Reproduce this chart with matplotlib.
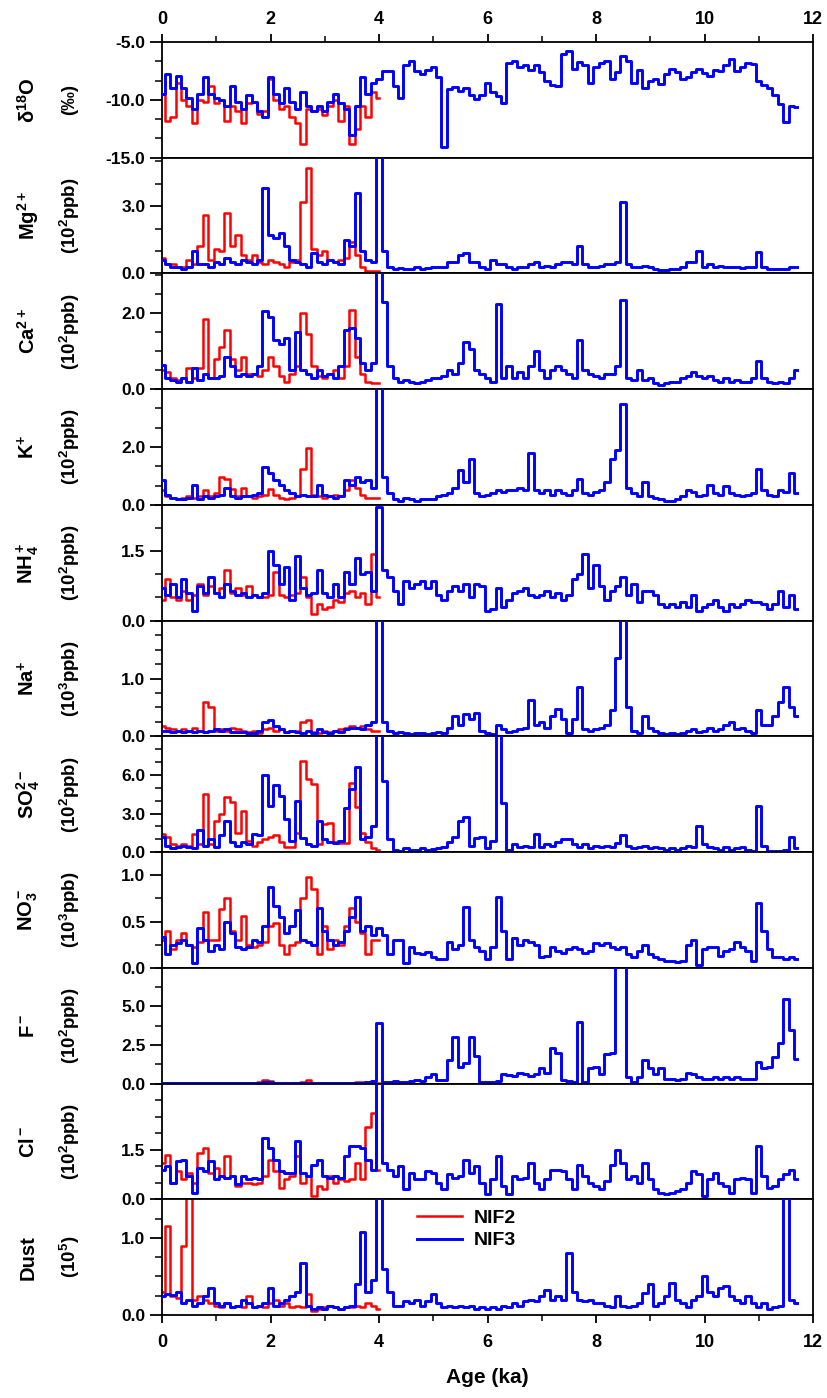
import numpy as np
import matplotlib
matplotlib.use('Agg')
import matplotlib.pyplot as plt
from matplotlib.ticker import FixedLocator, AutoMinorLocator, FormatStrFormatter, MultipleLocator

plt.rcParams['font.family'] = ['Liberation Sans', 'DejaVu Sans']
plt.rcParams['font.weight'] = 'bold'
plt.rcParams['axes.unicode_minus'] = False
plt.rcParams['mathtext.fontset'] = 'custom'
plt.rcParams['mathtext.rm'] = 'Liberation Sans:bold'
plt.rcParams['mathtext.it'] = 'Liberation Sans:bold'
plt.rcParams['mathtext.bf'] = 'Liberation Sans:bold'
plt.rcParams['mathtext.default'] = 'rm'

# ---------------- data (sampled every 0.1 ka) ----------------
age_nif3 = np.round(np.arange(0, 11.75, 0.1), 1)   # 0.0 .. 11.7 ka
age_nif2 = np.round(np.arange(0, 4.05, 0.1), 1)    # 0.0 .. 4.0 ka

d18o_nif3 = [-9.5, -7.8, -9.0, -7.9, -9.0, -9.8, -10.8, -9.5, -8.0, -9.5,
             -9.8, -10.0, -10.5, -8.8, -10.2, -10.8, -9.6, -10.2, -11.0, -11.5,
             -8.0, -9.5, -10.3, -9.0, -10.2, -10.8, -9.3, -10.5, -11.0, -10.5,
             -11.0, -10.2, -9.5, -10.3, -10.8, -13.0, -10.5, -8.0, -9.5, -8.5,
             -8.2, -7.5, -7.5, -8.8, -9.8, -7.0, -6.6, -7.5, -7.8, -7.4,
             -7.2, -8.0, -14.1, -9.1, -8.9, -9.2, -9.0, -9.6, -9.9, -9.6,
             -8.5, -9.3, -9.7, -10.3, -6.8, -6.6, -7.2, -7.0, -7.4, -7.0,
             -7.6, -8.4, -8.7, -8.8, -6.0, -5.8, -7.3, -6.7, -7.0, -8.5,
             -7.2, -6.8, -6.6, -8.2, -7.6, -6.2, -6.6, -8.5, -7.4, -9.0,
             -8.4, -8.2, -8.6, -7.8, -7.3, -7.6, -8.2, -8.0, -7.6, -7.3,
             -7.7, -7.9, -7.4, -7.5, -7.0, -6.5, -7.5, -7.2, -6.8, -6.9,
             -8.4, -8.7, -9.0, -9.6, -10.4, -11.9, -10.5, -10.6]
d18o_nif2 = [-9.5, -11.8, -11.5, -8.5, -10.0, -10.5, -12.0, -10.0, -10.2, -8.8,
             -10.3, -10.0, -11.8, -10.5, -11.0, -12.0, -10.3, -10.2, -11.2, -11.0,
             -8.2, -10.0, -10.8, -10.5, -11.5, -12.0, -13.8, -10.8, -11.0, -10.8,
             -11.3, -10.5, -10.0, -11.8, -10.5, -13.8, -12.5, -10.5, -11.5, -9.3,
             -9.8]

mg_nif3 = [0.6, 0.4, 0.3, 0.3, 0.2, 0.3, 1.0, 0.4, 0.4, 0.3,
           0.5, 0.4, 0.7, 0.5, 0.4, 0.6, 0.5, 0.4, 0.6, 3.8,
           1.7, 1.6, 1.8, 1.2, 0.6, 0.5, 0.4, 0.3, 0.9, 0.5,
           0.4, 0.6, 0.5, 0.4, 1.5, 1.2, 3.6, 1.0, 0.6, 0.5,
           5.3, 1.0, 0.3, 0.2, 0.25, 0.2, 0.2, 0.3, 0.2, 0.25,
           0.3, 0.3, 0.3, 0.5, 0.5, 0.8, 0.9, 0.5, 0.5, 0.3,
           0.2, 0.6, 0.4, 0.4, 0.3, 0.2, 0.3, 0.3, 0.4, 0.5,
           0.3, 0.35, 0.3, 0.4, 0.5, 0.5, 0.4, 1.2, 0.4, 0.3,
           0.3, 0.35, 0.4, 0.4, 0.5, 3.2, 0.4, 0.3, 0.3, 0.35,
           0.3, 0.2, 0.15, 0.15, 0.2, 0.2, 0.3, 0.5, 0.5, 1.0,
           0.3, 0.4, 0.3, 0.35, 0.3, 0.3, 0.3, 0.25, 0.3, 0.3,
           0.95, 0.3, 0.2, 0.2, 0.2, 0.2, 0.3, 0.3]
mg_nif2 = [0.7, 0.4, 0.4, 0.3, 0.3, 0.6, 0.4, 1.2, 2.6, 0.6,
           1.1, 1.0, 2.7, 1.2, 1.7, 0.8, 0.6, 0.8, 0.5, 0.4,
           0.6, 0.5, 0.4, 0.3, 0.5, 0.6, 3.2, 4.7, 1.1, 0.8,
           1.0, 0.6, 0.5, 0.6, 0.7, 1.4, 0.8, 0.3, 0.1, 0.1,
           0.1]

ca_nif3 = [0.65, 0.3, 0.25, 0.2, 0.3, 0.2, 0.55, 0.25, 0.4, 0.3,
           0.3, 0.35, 0.85, 0.6, 0.35, 0.4, 0.35, 0.4, 0.6, 2.05,
           1.9, 1.3, 1.2, 1.35, 0.5, 1.5, 0.5, 0.4, 0.3, 0.5,
           0.35, 0.4, 0.3, 0.6, 1.55, 1.6, 1.35, 0.7, 0.5, 0.7,
           3.2, 2.3, 0.6, 0.3, 0.2, 0.25, 0.2, 0.15, 0.2, 0.25,
           0.3, 0.3, 0.35, 0.5, 0.4, 0.7, 1.25, 1.05, 0.5, 0.4,
           0.3, 0.2, 2.25, 0.3, 0.6, 0.3, 0.45, 0.3, 0.6, 1.0,
           0.5, 0.3, 0.5, 0.6, 0.5, 0.4, 0.3, 1.3, 0.5, 0.4,
           0.35, 0.3, 0.4, 0.4, 0.6, 2.35, 0.3, 0.25, 0.5, 0.25,
           0.3, 0.15, 0.1, 0.15, 0.2, 0.2, 0.3, 0.35, 0.45, 0.35,
           0.3, 0.35, 0.25, 0.2, 0.3, 0.2, 0.25, 0.2, 0.2, 0.3,
           0.75, 0.3, 0.2, 0.15, 0.2, 0.15, 0.3, 0.5]
ca_nif2 = [0.5, 0.45, 0.3, 0.25, 0.3, 0.55, 0.3, 0.55, 1.85, 0.3,
           0.8, 1.1, 1.55, 0.8, 0.5, 0.85, 0.4, 0.4, 0.35, 0.5,
           0.85, 0.6, 0.35, 0.2, 0.4, 0.6, 2.0, 1.45, 0.6, 0.35,
           0.3, 0.4, 0.5, 0.3, 0.6, 2.1, 0.85, 0.4, 0.2, 0.15,
           0.15]

k_nif3 = [0.85, 0.35, 0.25, 0.2, 0.2, 0.25, 0.7, 0.2, 0.3, 0.25,
          0.3, 0.35, 0.6, 0.3, 0.25, 0.3, 0.3, 0.35, 0.4, 1.3,
          1.1, 0.85, 0.7, 0.5, 0.4, 0.3, 0.35, 0.3, 0.3, 0.7,
          0.35, 0.3, 0.25, 0.3, 0.85, 0.7, 0.95, 0.8, 0.85, 0.6,
          4.1, 0.95, 0.4, 0.2, 0.15, 0.25, 0.2, 0.15, 0.2, 0.2,
          0.2, 0.3, 0.35, 0.4, 0.6, 1.2, 0.8, 1.6, 0.4, 0.3,
          0.35, 0.4, 0.5, 0.45, 0.5, 0.5, 0.6, 0.5, 1.8, 0.5,
          0.4, 0.5, 0.35, 0.5, 0.4, 0.35, 0.5, 0.9, 0.4, 0.35,
          0.45, 0.5, 0.8, 1.6, 1.9, 3.5, 0.6, 0.4, 0.3, 0.8,
          0.3, 0.25, 0.2, 0.15, 0.15, 0.2, 0.3, 0.5, 0.45, 0.3,
          0.35, 0.7, 0.4, 0.35, 0.65, 0.4, 0.35, 0.3, 0.35, 0.4,
          1.25, 0.5, 0.35, 0.3, 0.5, 0.45, 1.1, 0.4]
k_nif2 = [0.5, 0.3, 0.25, 0.2, 0.25, 0.3, 0.25, 0.3, 0.5, 0.3,
          0.4, 0.95, 0.9, 0.55, 0.3, 0.6, 0.3, 0.25, 0.3, 0.35,
          0.55, 0.35, 0.25, 0.2, 0.25, 0.3, 1.25, 1.95, 0.35, 0.3,
          0.25, 0.3, 0.35, 0.3, 0.5, 0.85, 0.6, 0.35, 0.25, 0.25,
          0.25]

nh4_nif3 = [0.7, 0.55, 0.8, 0.5, 0.9, 0.6, 0.2, 0.75, 0.6, 0.95,
            0.6, 0.5, 0.8, 0.65, 0.55, 0.6, 0.5, 0.55, 0.5, 0.6,
            1.5, 1.2, 0.8, 1.15, 0.45, 1.4, 0.7, 0.55, 0.6, 1.1,
            0.6, 0.5, 0.8, 0.5, 1.05, 0.8, 1.35, 1.0, 1.05, 0.65,
            2.45, 1.1, 0.95, 0.65, 0.35, 0.85, 0.7, 0.8, 0.85, 0.7,
            0.85, 0.55, 0.45, 0.65, 0.75, 0.65, 0.8, 0.5, 0.8, 0.75,
            0.2, 0.25, 0.7, 0.3, 0.45, 0.6, 0.65, 0.7, 0.55, 0.5,
            0.55, 0.65, 0.5, 0.6, 0.45, 0.55, 0.9, 1.0, 1.45, 0.7,
            1.2, 0.75, 0.45, 0.65, 0.75, 0.95, 0.55, 0.8, 0.4, 0.65,
            0.65, 0.55, 0.35, 0.3, 0.35, 0.3, 0.4, 0.3, 0.55, 0.2,
            0.3, 0.35, 0.45, 0.3, 0.2, 0.35, 0.3, 0.35, 0.45, 0.4,
            0.4, 0.35, 0.25, 0.35, 0.65, 0.3, 0.55, 0.25]
nh4_nif2 = [0.45, 0.9, 0.5, 0.45, 0.65, 0.45, 0.55, 0.8, 0.55, 0.75,
            0.6, 0.7, 1.1, 0.6, 0.7, 0.55, 0.75, 0.55, 0.5, 0.5,
            0.55, 1.05, 0.55, 0.5, 0.55, 0.6, 0.95, 0.5, 0.15, 0.35,
            0.25, 0.3, 0.45, 0.4, 0.6, 0.65, 0.5, 0.6, 0.35, 1.45,
            0.5]

na_nif3 = [0.1, 0.1, 0.08, 0.1, 0.07, 0.1, 0.07, 0.1, 0.08, 0.1,
           0.12, 0.1, 0.12, 0.08, 0.07, 0.08, 0.05, 0.06, 0.1, 0.25,
           0.28, 0.18, 0.12, 0.08, 0.1, 0.07, 0.06, 0.1, 0.05, 0.12,
           0.08, 0.06, 0.1, 0.08, 0.12, 0.15, 0.15, 0.12, 0.2, 0.25,
           2.1, 0.25, 0.1, 0.05, 0.07, 0.05, 0.04, 0.06, 0.05, 0.04,
           0.05, 0.08, 0.05, 0.15, 0.35, 0.2, 0.38, 0.3, 0.4, 0.1,
           0.05, 0.04, 0.2, 0.12, 0.08, 0.1, 0.12, 0.15, 0.62, 0.2,
           0.25, 0.15, 0.35, 0.48, 0.3, 0.06, 0.3, 0.85, 0.12, 0.1,
           0.12, 0.15, 0.2, 0.45, 1.35, 2.1, 0.5, 0.1, 0.06, 0.35,
           0.15, 0.1, 0.06, 0.04, 0.05, 0.04, 0.05, 0.1, 0.12, 0.08,
           0.1, 0.15, 0.1, 0.12, 0.2, 0.25, 0.12, 0.15, 0.1, 0.05,
           0.45, 0.2, 0.2, 0.35, 0.6, 0.85, 0.5, 0.35]
na_nif2 = [0.18, 0.15, 0.12, 0.1, 0.12, 0.1, 0.15, 0.1, 0.6, 0.5,
           0.1, 0.12, 0.1, 0.15, 0.12, 0.1, 0.08, 0.1, 0.06, 0.12,
           0.15, 0.1, 0.12, 0.08, 0.1, 0.1, 0.25, 0.28, 0.08, 0.06,
           0.1, 0.08, 0.1, 0.12, 0.15, 0.18, 0.15, 0.18, 0.12, 0.1,
           0.1]

so4_nif3 = [1.2, 0.5, 0.3, 0.4, 0.5, 0.4, 0.3, 1.7, 0.5, 1.0,
            0.4, 1.3, 2.4, 0.8, 0.5, 0.8, 0.6, 1.4, 1.3, 6.0,
            3.6, 5.2, 4.4, 2.6, 0.9, 4.0, 1.1, 0.6, 0.5, 2.4,
            1.0, 0.8, 0.7, 0.9, 3.4, 4.9, 6.6, 1.0, 1.2, 2.0,
            9.2, 5.5, 1.0, 0.2, 0.1, 0.3, 0.2, 0.2, 0.3, 0.2,
            0.25, 0.3, 0.4, 0.8, 1.2, 2.4, 2.7, 0.5, 1.1, 1.2,
            0.3, 0.9, 9.2, 3.8, 0.2, 0.6, 0.4, 0.5, 0.4, 1.4,
            0.4, 0.6, 0.5, 0.8, 1.0, 1.0, 0.6, 0.4, 0.6, 0.3,
            0.5, 0.4, 0.5, 0.4, 0.7, 1.3, 0.5, 0.3, 0.4, 0.5,
            0.3, 0.4, 0.3, 0.2, 0.3, 0.2, 0.3, 0.5, 0.4, 2.0,
            0.6, 0.4, 0.3, 0.2, 0.4, 0.2, 0.3, 0.4, 0.2, 0.1,
            3.6, 0.5, 0.1, 0.1, 0.1, 0.2, 1.2, 0.3]
so4_nif2 = [1.4, 1.2, 0.6, 0.5, 0.6, 0.5, 1.4, 0.6, 4.5, 0.6,
            2.4, 3.0, 4.3, 3.9, 1.5, 3.2, 0.9, 0.5, 0.8, 1.0,
            1.2, 1.3, 0.8, 0.4, 0.4, 1.5, 7.1, 5.7, 5.3, 0.6,
            2.2, 2.3, 0.8, 0.7, 0.7, 5.4, 3.5, 1.5, 0.8, 0.3,
            0.2]

no3_nif3 = [0.33, 0.15, 0.25, 0.27, 0.3, 0.25, 0.05, 0.43, 0.3, 0.18,
            0.25, 0.2, 0.5, 0.38, 0.22, 0.2, 0.22, 0.3, 0.28, 0.45,
            0.87, 0.67, 0.55, 0.38, 0.45, 0.62, 0.3, 0.28, 0.25, 0.65,
            0.4, 0.3, 0.25, 0.28, 0.4, 0.55, 0.77, 0.4, 0.45, 0.35,
            0.43, 0.35, 0.15, 0.3, 0.3, 0.05, 0.23, 0.16, 0.15, 0.17,
            0.12, 0.1, 0.09, 0.28, 0.2, 0.25, 0.66, 0.3, 0.22, 0.18,
            0.1, 0.22, 0.77, 0.4, 0.1, 0.32, 0.25, 0.3, 0.28, 0.25,
            0.12, 0.13, 0.22, 0.18, 0.16, 0.2, 0.22, 0.2, 0.16, 0.18,
            0.27, 0.25, 0.27, 0.22, 0.2, 0.23, 0.15, 0.12, 0.18, 0.25,
            0.15, 0.12, 0.1, 0.07, 0.07, 0.06, 0.07, 0.25, 0.3, 0.03,
            0.2, 0.23, 0.22, 0.13, 0.18, 0.2, 0.28, 0.22, 0.18, 0.07,
            0.7, 0.4, 0.2, 0.12, 0.12, 0.1, 0.12, 0.1]
no3_nif2 = [0.3, 0.4, 0.2, 0.3, 0.38, 0.25, 0.22, 0.28, 0.6, 0.3,
            0.3, 0.63, 0.75, 0.4, 0.3, 0.56, 0.25, 0.22, 0.25, 0.28,
            0.45, 0.48, 0.25, 0.15, 0.25, 0.28, 0.75, 0.98, 0.85, 0.15,
            0.45, 0.2, 0.3, 0.25, 0.45, 0.65, 0.5, 0.38, 0.15, 0.3,
            0.3]

f_nif3 = [0.05, 0.04, 0.05, 0.05, 0.04, 0.05, 0.05, 0.04, 0.05, 0.05,
          0.05, 0.04, 0.05, 0.05, 0.05, 0.04, 0.05, 0.05, 0.04, 0.1,
          0.08, 0.05, 0.05, 0.04, 0.05, 0.05, 0.05, 0.06, 0.05, 0.05,
          0.05, 0.04, 0.05, 0.05, 0.05, 0.05, 0.06, 0.05, 0.1, 0.15,
          3.9, 0.1, 0.12, 0.15, 0.1, 0.12, 0.15, 0.2, 0.15, 0.4,
          0.6, 0.2, 0.2, 1.5, 3.0, 1.1, 1.3, 3.0, 1.8, 0.1,
          0.1, 0.1, 0.15, 0.6, 0.55, 0.5, 0.7, 0.6, 0.5, 0.6,
          1.0, 0.7, 2.3, 2.0, 0.2, 0.15, 0.1, 4.0, 0.1, 1.0,
          1.1, 0.6, 1.9, 2.0, 7.6, 7.6, 0.4, 0.1, 0.4, 1.5,
          1.0, 0.6, 1.0, 0.3, 0.3, 0.2, 0.3, 0.7, 0.6, 0.4,
          0.3, 0.3, 0.4, 0.3, 0.45, 0.3, 0.45, 0.3, 0.3, 0.3,
          1.4, 1.0, 1.1, 1.7, 2.6, 5.5, 3.5, 1.6]
f_nif2 = [0.05, 0.05, 0.04, 0.05, 0.05, 0.04, 0.05, 0.05, 0.05, 0.04,
          0.05, 0.05, 0.04, 0.05, 0.05, 0.05, 0.04, 0.05, 0.1, 0.25,
          0.15, 0.05, 0.05, 0.04, 0.05, 0.05, 0.1, 0.25, 0.05, 0.05,
          0.04, 0.05, 0.05, 0.04, 0.05, 0.05, 0.08, 0.1, 0.05, 0.05,
          0.05]

cl_nif3 = [0.9, 1.0, 0.5, 1.15, 1.2, 0.7, 0.2, 0.95, 0.85, 1.15,
           0.6, 0.7, 0.65, 0.7, 0.45, 0.7, 0.6, 0.65, 0.6, 1.85,
           1.55, 1.2, 0.85, 0.8, 0.8, 1.75, 0.8, 0.7, 1.05, 1.2,
           0.7, 0.65, 0.7, 0.65, 1.3, 1.6, 1.6, 1.55, 1.2, 0.9,
           3.6, 1.1, 0.9, 0.7, 1.0, 0.3, 0.8, 0.6, 0.6, 0.85,
           0.8, 0.5, 0.3, 0.75, 0.65, 0.7, 1.2, 0.8, 1.0, 0.5,
           0.15, 0.6, 1.3, 0.4, 0.15, 0.7, 0.6, 0.65, 1.1, 0.5,
           0.3, 0.6, 0.9, 0.9, 0.85, 0.6, 0.3, 1.05, 0.7, 0.5,
           0.4, 0.3, 0.55, 1.05, 1.5, 1.1, 0.6, 0.7, 0.5, 1.1,
           0.6, 0.3, 0.2, 0.15, 0.2, 0.25, 0.3, 0.5, 0.85, 0.75,
           0.1, 0.6, 0.8, 0.5, 0.4, 0.2, 0.6, 0.65, 0.6, 0.2,
           1.6, 0.7, 0.35, 0.4, 0.6, 0.75, 0.9, 0.6]
cl_nif2 = [1.1, 1.35, 0.5, 0.85, 0.6, 0.8, 0.5, 1.4, 1.55, 0.8,
           0.95, 0.7, 1.3, 0.7, 0.4, 0.5, 0.5, 0.45, 0.5, 0.7,
           1.2, 0.85, 0.35, 0.6, 0.7, 1.3, 0.5, 0.7, 0.1, 0.4,
           0.3, 0.7, 0.5, 0.6, 0.55, 0.6, 1.1, 0.6, 2.2, 2.6,
           0.9]

dust_nif3 = [0.25, 0.27, 0.26, 0.3, 0.15, 0.2, 0.12, 0.15, 0.25, 0.35,
             0.15, 0.12, 0.15, 0.1, 0.12, 0.2, 0.15, 0.1, 0.12, 0.15,
             0.35, 0.12, 0.15, 0.2, 0.25, 0.3, 0.68, 0.12, 0.08, 0.1,
             0.08, 0.12, 0.1, 0.08, 0.1, 0.12, 0.4, 1.08, 0.3, 0.45,
             1.6, 0.6, 0.3, 0.12, 0.12, 0.18, 0.15, 0.2, 0.12, 0.18,
             0.27, 0.15, 0.1, 0.12, 0.1, 0.12, 0.1, 0.12, 0.08, 0.1,
             0.08, 0.1, 0.08, 0.12, 0.1, 0.15, 0.12, 0.18, 0.2, 0.18,
             0.25, 0.33, 0.2, 0.25, 0.2, 0.8, 0.3, 0.2, 0.18, 0.2,
             0.15, 0.15, 0.12, 0.1, 0.25, 0.12, 0.1, 0.12, 0.15, 0.28,
             0.4, 0.12, 0.15, 0.25, 0.42, 0.2, 0.15, 0.1, 0.2, 0.25,
             0.5, 0.3, 0.25, 0.35, 0.38, 0.25, 0.2, 0.15, 0.25, 0.15,
             0.1, 0.15, 0.08, 0.1, 0.12, 1.6, 0.2, 0.15]
dust_nif2 = [0.3, 1.15, 0.25, 0.22, 0.9, 1.6, 0.2, 0.25, 0.2, 0.15,
             0.12, 0.1, 0.15, 0.1, 0.12, 0.1, 0.25, 0.1, 0.12, 0.1,
             0.15, 0.2, 0.12, 0.15, 0.1, 0.12, 0.1, 0.27, 0.05, 0.08,
             0.1, 0.12, 0.1, 0.08, 0.1, 0.1, 0.12, 0.1, 0.15, 0.12,
             0.08]

species_labels = ['δ$^{18}$O', 'Mg$^{2+}$', 'Ca$^{2+}$', 'K$^{+}$', 'NH$_4^+$', 'Na$^{+}$',
                  'SO$_4^{2-}$', 'NO$_3^-$', 'F$^-$', 'Cl$^-$', 'Dust']
unit_labels = ['(‰)', '(10$^2$ppb)', '(10$^2$ppb)', '(10$^2$ppb)', '(10$^2$ppb)', '(10$^3$ppb)',
               '(10$^2$ppb)', '(10$^3$ppb)', '(10$^2$ppb)', '(10$^2$ppb)', '(10$^5$)']
series_nif2 = [d18o_nif2, mg_nif2, ca_nif2, k_nif2, nh4_nif2, na_nif2,
               so4_nif2, no3_nif2, f_nif2, cl_nif2, dust_nif2]
series_nif3 = [d18o_nif3, mg_nif3, ca_nif3, k_nif3, nh4_nif3, na_nif3,
               so4_nif3, no3_nif3, f_nif3, cl_nif3, dust_nif3]
y_limits = [(-15, -5), (0, 5.15), (0, 3.05), (0, 4.0), (0, 2.5), (0, 2.0),
            (0, 9.0), (0, 1.25), (0, 7.5), (0, 3.5), (0, 1.5)]
y_ticks = [[-15, -10, -5], [0, 3], [0, 2], [0, 2], [0, 1.5], [0, 1],
           [0, 3, 6], [0, 0.5, 1.0], [0, 2.5, 5.0], [0, 1.5], [0, 1]]
minor_div = [3, 3, 4, 3, 3, 4, 3, 2, 2, 3, 4]

RED = '#ff0000'
BLUE = '#0000ff'

fig = plt.figure(figsize=(8.27, 13.98), dpi=100)
W, H = 827.0, 1398.0
gs = fig.add_gridspec(11, 1, left=162 / W, right=813 / W,
                      top=1 - 42 / H, bottom=1 - 1315 / H, hspace=0)
axes = []
for i in range(11):
    ax = fig.add_subplot(gs[i], sharex=axes[0] if axes else None)
    axes.append(ax)
    l2, = ax.plot(age_nif2, series_nif2[i], color=RED, lw=1.8,
                  drawstyle='steps-mid', zorder=2, label='NIF2')
    l3, = ax.plot(age_nif3, series_nif3[i], color=BLUE, lw=2.1,
                  drawstyle='steps-mid', zorder=3, label='NIF3')
    ax.set_xlim(0, 12)
    ax.set_ylim(*y_limits[i])
    ax.yaxis.set_major_locator(FixedLocator(y_ticks[i]))
    ax.yaxis.set_minor_locator(AutoMinorLocator(minor_div[i]))
    ax.yaxis.set_major_formatter(FormatStrFormatter('%.1f'))
    ax.tick_params(axis='y', which='major', direction='out', length=9, width=1.3,
                   labelsize=12.5, pad=3)
    ax.tick_params(axis='y', which='minor', direction='out', length=5, width=1.1)
    ax.tick_params(axis='x', which='both', bottom=False, top=False,
                   labelbottom=False, labeltop=False)
    for sp in ax.spines.values():
        sp.set_linewidth(1.3)
    for lab in ax.get_yticklabels():
        lab.set_fontweight('bold')

    pos = ax.get_position()
    yc = (pos.y0 + pos.y1) / 2
    fig.text(28 / W, yc, species_labels[i], rotation=90, ha='center', va='center',
             fontsize=14.5, fontweight='bold')
    fig.text(70 / W, yc, unit_labels[i], rotation=90, ha='center', va='center',
             fontsize=13.5, fontweight='bold')

axes[0].xaxis.set_major_locator(MultipleLocator(2))
axes[0].xaxis.set_minor_locator(MultipleLocator(1))
axes[0].xaxis.set_major_formatter(FormatStrFormatter('%d'))
axes[0].tick_params(axis='x', which='both', top=True, labeltop=True, direction='out')
axes[0].tick_params(axis='x', which='major', length=6, width=1.3, labelsize=13, pad=4)
axes[0].tick_params(axis='x', which='minor', length=4, width=1.1)
axes[-1].tick_params(axis='x', which='both', bottom=True, labelbottom=True, direction='out')
axes[-1].tick_params(axis='x', which='major', length=6, width=1.3, labelsize=13, pad=8)
axes[-1].tick_params(axis='x', which='minor', length=4, width=1.1)
for ax in (axes[0], axes[-1]):
    for lab in ax.get_xticklabels():
        lab.set_fontweight('bold')
axes[-1].set_xlabel('Age (ka)', fontsize=15, fontweight='bold', labelpad=12)

leg = axes[-1].legend(loc='upper left', bbox_to_anchor=(0.38, 0.98), frameon=False,
                      fontsize=14, handlelength=2.3, handletextpad=0.6,
                      labelspacing=0.25, borderaxespad=0)
for t in leg.get_texts():
    t.set_fontweight('bold')

fig.savefig('out.png', dpi=100)
